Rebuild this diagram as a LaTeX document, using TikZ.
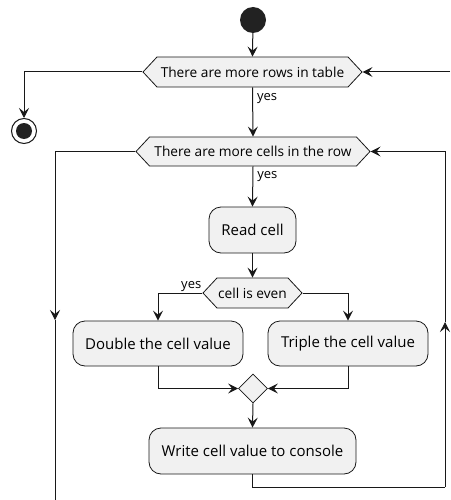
\documentclass[tikz,border=0pt]{standalone}
\usepackage{fontspec}
\setmainfont{Open Sans}
\usetikzlibrary{arrows.meta,shapes.symbols,shapes.geometric}
\definecolor{fillg}{HTML}{F1F1F1}
\definecolor{strokeg}{HTML}{181818}
\definecolor{dotc}{HTML}{222222}
\tikzset{
  flow/.style={draw=strokeg, line width=1pt, -{Stealth[length=10pt,width=10pt,inset=4pt]}},
  plain/.style={draw=strokeg, line width=1pt},
  hexbox/.style={signal, signal to=east and west, draw=strokeg, fill=fillg, line width=0.8pt,
     inner sep=0pt, font=\fontsize{13.7}{16}\selectfont},
  actbox/.style={rectangle, rounded corners=12pt, draw=strokeg, fill=fillg, line width=0.8pt,
     inner sep=0pt, font=\fontsize{15}{18}\selectfont},
  lbl/.style={font=\fontsize{13}{15}\selectfont, inner sep=0pt},
}
\begin{document}
\begin{tikzpicture}[x=1pt,y=-1pt]
\useasboundingbox (0,0) rectangle (450,500);
% start
\node[circle, fill=dotc, minimum size=26pt, inner sep=0pt] (start) at (253,20) {};
% hexagons
\node[hexbox, minimum width=219pt, minimum height=30pt, signal pointer angle=94] (rows) at (252.5,72) {There are more rows in table};
\node[hexbox, minimum width=234pt, minimum height=29pt, signal pointer angle=94] (cells) at (253,151.5) {There are more cells in the row};
\node[hexbox, minimum width=99pt, minimum height=30pt, signal pointer angle=94] (even) at (252.5,293) {cell is even};
% end
\node[circle, draw=strokeg, line width=1pt, fill=white, minimum size=25pt, inner sep=0pt] (stop) at (24,131) {};
\node[circle, fill=dotc, minimum size=16pt, inner sep=0pt] (stopin) at (24,131) {};
% actions
\node[actbox, minimum width=87pt, minimum height=46pt] (read) at (252.5,230) {Read cell};
\node[actbox, minimum width=170pt, minimum height=45pt] (dbl) at (158,343.5) {Double the cell value};
\node[actbox, minimum width=160pt, minimum height=45pt] (tpl) at (348,343.5) {Triple the cell value};
\node[diamond, shape aspect=1, draw=strokeg, fill=fillg, line width=0.8pt, minimum width=29pt, minimum height=29pt, inner sep=0pt] (merge) at (253,388.5) {};
\node[actbox, minimum width=207pt, minimum height=46pt] (write) at (252.5,451) {Write cell value to console};
% coordinates
\coordinate (topright) at (450,72);
\coordinate (lmid) at (55,320);
\coordinate (lbot) at (55,500);
\coordinate (rbot) at (445,487);
\coordinate (rmid) at (445,322);
% connectors
\draw[flow] (start) -- (rows.north);
\draw[flow] (topright) -- (rows.east);
\draw[flow] (rows.west) -| (stop.north);
\draw[flow] (rows.south) -- node[lbl, anchor=west, xshift=4pt, pos=0.22] {yes} (cells.north);
\draw[flow] (cells.west) -| (lmid);
\draw[plain] (lmid) -- (lbot);
\draw[flow] (cells.south) -- node[lbl, anchor=west, xshift=4pt, pos=0.25] {yes} (read.north);
\draw[flow] (read.south) -- (even.north);
\draw[flow] (even.west) -| (dbl.north);
\node[lbl, anchor=south east] (yeseven) at ([xshift=-1pt,yshift=1.5pt]even.west) {yes};
\draw[flow] (even.east) -| (tpl.north);
\draw[flow] (dbl.south) |- (merge.west);
\draw[flow] (tpl.south) |- (merge.east);
\draw[flow] (merge.south) -- (write.north);
\draw[plain] (write.south) |- (rbot);
\draw[flow] (rbot) -- (rmid);
\draw[flow] (rmid) |- (cells.east);
\end{tikzpicture}
\end{document}
